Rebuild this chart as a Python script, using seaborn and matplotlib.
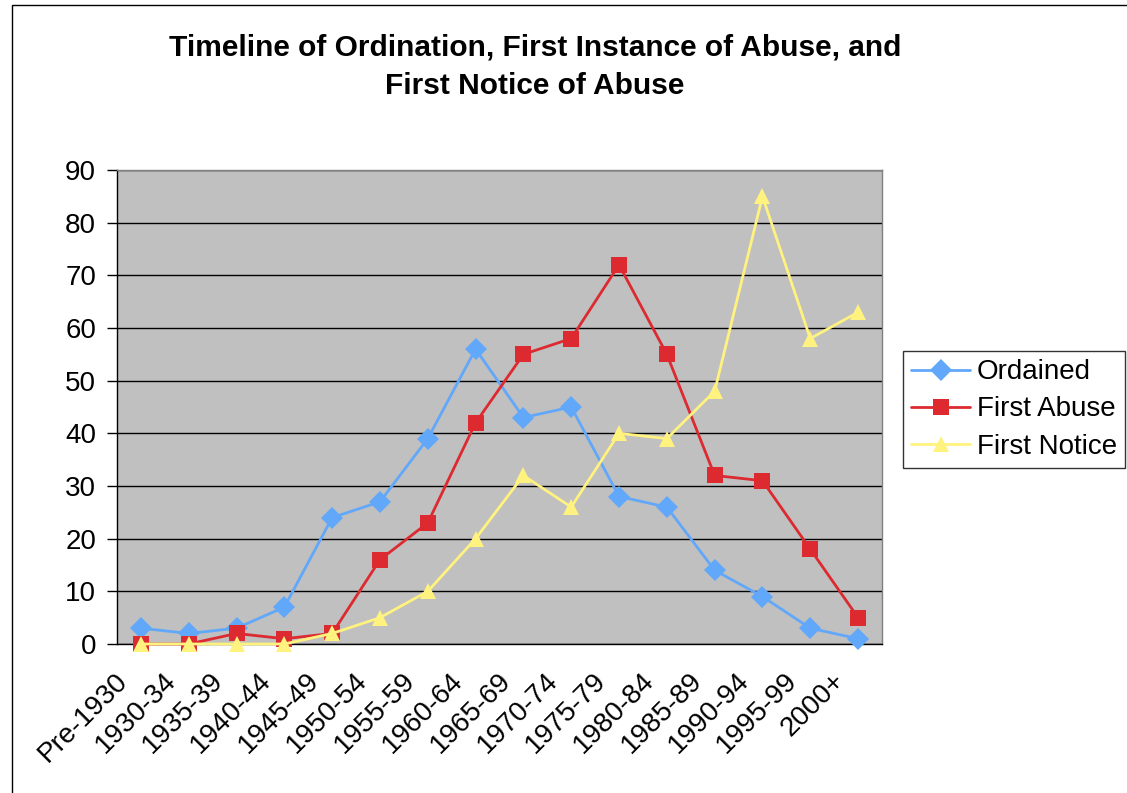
import matplotlib.pyplot as plt
import matplotlib.patches as mpatches
import matplotlib.transforms as mtransforms
import numpy as np
import pandas as pd
import seaborn as sns

periods = ["Pre-1930", "1930-34", "1935-39", "1940-44", "1945-49", "1950-54",
           "1955-59", "1960-64", "1965-69", "1970-74", "1975-79", "1980-84",
           "1985-89", "1990-94", "1995-99", "2000+"]
ordained = [3, 2, 3, 7, 24, 27, 39, 56, 43, 45, 28, 26, 14, 9, 3, 1]
first_abuse = [0, 0, 2, 1, 2, 16, 23, 42, 55, 58, 72, 55, 32, 31, 18, 5]
first_notice = [0, 0, 0, 0, 2, 5, 10, 20, 32, 26, 40, 39, 48, 85, 58, 63]

series_names = ["Ordained", "First Abuse", "First Notice"]
colors = {"Ordained": "#62a8fa", "First Abuse": "#dc2a30", "First Notice": "#fff27e"}
markers = {"Ordained": "D", "First Abuse": "s", "First Notice": "^"}

df = pd.concat([
    pd.DataFrame({"pos": np.arange(len(periods)), "period": periods, "value": vals, "series": name})
    for name, vals in zip(series_names, [ordained, first_abuse, first_notice])
])

sns.set_style("white")
plt.rcParams['font.family'] = ['Liberation Sans', 'DejaVu Sans']
plt.rcParams['text.color'] = 'black'
plt.rcParams['xtick.color'] = 'black'
plt.rcParams['ytick.color'] = 'black'

fig = plt.figure(figsize=(11.27, 7.93), dpi=100)
ax = fig.add_axes([117 / 1127, 1 - 644 / 793, (882 - 117) / 1127, (644 - 170) / 793])
ax.set_facecolor("#c0c0c0")

sns.lineplot(data=df, x="pos", y="value", hue="series", style="series",
             hue_order=series_names, style_order=series_names,
             palette=colors, markers=markers, dashes=False,
             linewidth=2, markersize=11, markeredgewidth=0, ax=ax)
# markers sitting on zero are drawn in full, over the axis line
for line in ax.lines:
    line.set_clip_on(False)
    line.set_zorder(3)

ax.set_xlim(-0.5, len(periods) - 0.5)
ax.set_ylim(0, 90)
ax.set_yticks(range(0, 91, 10))
ax.yaxis.grid(True, color="black", linewidth=1)
ax.set_axisbelow(True)

# category labels, rotated like the spreadsheet chart (set slightly left of the category centre)
ax.set_xticks(np.arange(len(periods) + 1) - 0.5)
ax.set_xticklabels([])
ax.tick_params(axis="x", length=7, width=1, color="black", direction="out")
shift = mtransforms.ScaledTranslation(-26 / 100, -24 / 100, fig.dpi_scale_trans)
for i, p in enumerate(periods):
    ax.text(i, 0, p, transform=ax.get_xaxis_transform() + shift, rotation=45,
            ha="right", va="top", rotation_mode="anchor", fontsize=20, clip_on=False)

ax.tick_params(axis="y", length=7, width=1, color="black", direction="out", labelsize=20,
               left=True, pad=8)
ax.set_xlabel("")
ax.set_ylabel("")
for side in ["top", "right"]:
    ax.spines[side].set_color("#808080")
    ax.spines[side].set_linewidth(1)
ax.spines["left"].set_color("black")
ax.spines["bottom"].set_color("black")
ax.spines["left"].set_linewidth(1)
ax.spines["bottom"].set_linewidth(1)

handles, labels = ax.get_legend_handles_labels()
leg = ax.legend(handles, labels, loc="upper left", bbox_to_anchor=(903 / 1127, 1 - 351 / 793),
                bbox_transform=fig.transFigure, fontsize=20, frameon=True, fancybox=False,
                handlelength=2.1, borderpad=0.3, labelspacing=0.4, handletextpad=0.25,
                borderaxespad=0)
leg.get_frame().set_edgecolor("black")
leg.get_frame().set_linewidth(1)

fig.text(535 / 1127, 1 - 48 / 793, "Timeline of Ordination, First Instance of Abuse, and",
         ha="center", va="center", fontsize=21.5, fontweight="bold")
fig.text(535 / 1127, 1 - 86 / 793, "First Notice of Abuse",
         ha="center", va="center", fontsize=21.5, fontweight="bold")

# outer chart border
fig.patches.append(mpatches.Rectangle((12 / 1127, -0.1), 1.2, 1.1 - 5 / 793,
                                      transform=fig.transFigure, fill=False,
                                      edgecolor="black", linewidth=1))

fig.savefig("out.png", dpi=100)
